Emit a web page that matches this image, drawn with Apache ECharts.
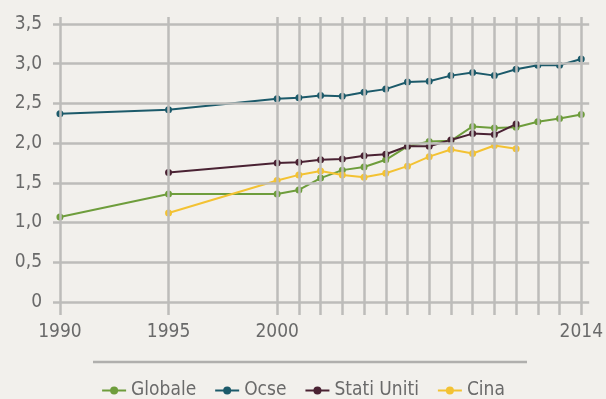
<!DOCTYPE html>
<html>
<head>
<meta charset="utf-8">
<script src="https://cdn.jsdelivr.net/npm/echarts@6/dist/echarts.min.js"></script>
<style>
html,body{margin:0;padding:0;background:#f2f0ec;}
#c{width:606px;height:399px;}
</style>
</head>
<body>
<div id="c"></div>
<script>
const years = [1990, 1995, 2000, 2001, 2002, 2003, 2004, 2005, 2006, 2007, 2008, 2009, 2010, 2011, 2012, 2013, 2014];
const globale = [1.07, 1.36, 1.36, 1.41, 1.56, 1.66, 1.70, 1.79, 1.96, 2.02, 2.03, 2.21, 2.19, 2.20, 2.27, 2.31, 2.36];
const ocse = [2.37, 2.42, 2.56, 2.57, 2.60, 2.59, 2.64, 2.68, 2.77, 2.78, 2.85, 2.89, 2.85, 2.93, 2.98, 2.98, 3.06];
const statiUniti = [null, 1.63, 1.75, 1.76, 1.79, 1.80, 1.84, 1.86, 1.96, 1.96, 2.04, 2.12, 2.11, 2.24, null, null, null];
const cina = [null, 1.12, 1.53, 1.60, 1.65, 1.60, 1.57, 1.62, 1.71, 1.83, 1.92, 1.87, 1.97, 1.93, null, null, null];
const yTicks = [0, 0.5, 1, 1.5, 2, 2.5, 3, 3.5];
const xLabels = [1990, 1995, 2000, 2014];
const seriesNames = ['Globale', 'Ocse', 'Stati Uniti', 'Cina'];
const colors = ['#6e9d3c', '#1c5a6a', '#4a2233', '#f3c233'];

const FONT = '"DejaVu Sans Condensed", sans-serif';
const gridColor = '#bdbcba';

function pairs(vals) {
  return years.map((y, i) => [y, vals[i]]).filter(p => p[1] !== null);
}
const allVals = [globale, ocse, statiUniti, cina];

const chart = echarts.init(document.getElementById('c'));
const series = [{
  name: 'grid',
  type: 'line',
  data: [],
  silent: true,
  z: 1,
  markLine: {
    silent: true,
    symbol: 'none',
    animation: false,
    label: {show: false},
    lineStyle: {color: gridColor, width: 2.5, type: 'solid'},
    emphasis: {disabled: true},
    data: yTicks.map(v => ({yAxis: v})).concat(years.map(v => ({xAxis: v})))
  }
}];
seriesNames.forEach((n, i) => {
  series.push({
    name: n,
    type: 'line',
    z: 3,
    data: pairs(allVals[i]),
    symbol: 'circle',
    symbolSize: 7,
    showSymbol: true,
    lineStyle: {color: colors[i], width: 2},
    itemStyle: {color: colors[i]},
    connectNulls: false
  });
});

chart.setOption({
  animation: false,
  backgroundColor: '#f2f0ec',
  grid: {left: 53, right: 12, top: 17, bottom: 84, containLabel: false},
  xAxis: {
    type: 'value',
    min: 1989.681,
    max: 2014.365,
    axisLine: {show: false},
    axisTick: {show: false},
    splitLine: {show: false},
    axisLabel: {
      customValues: xLabels,
      formatter: v => String(v),
      margin: 8,
      color: '#6a6a6a',
      fontFamily: FONT,
      fontSize: 19
    }
  },
  yAxis: {
    type: 'value',
    min: -0.164,
    max: 3.588,
    axisLine: {show: false},
    axisTick: {show: false},
    splitLine: {show: false},
    axisLabel: {
      customValues: yTicks,
      formatter: v => v === 0 ? '0' : v.toFixed(1).replace('.', ','),
      margin: 11,
      color: '#6a6a6a',
      fontFamily: FONT,
      fontSize: 19
    }
  },
  legend: {
    data: seriesNames,
    left: 'center',
    top: 376,
    itemWidth: 24,
    itemHeight: 10,
    itemGap: 18,
    textStyle: {color: '#6a6a6a', fontFamily: FONT, fontSize: 19}
  },
  graphic: [{
    type: 'line',
    shape: {x1: 93, y1: 362, x2: 527, y2: 362},
    style: {stroke: '#b0afad', lineWidth: 2.5},
    silent: true
  }],
  series: series
});
</script>
</body>
</html>
